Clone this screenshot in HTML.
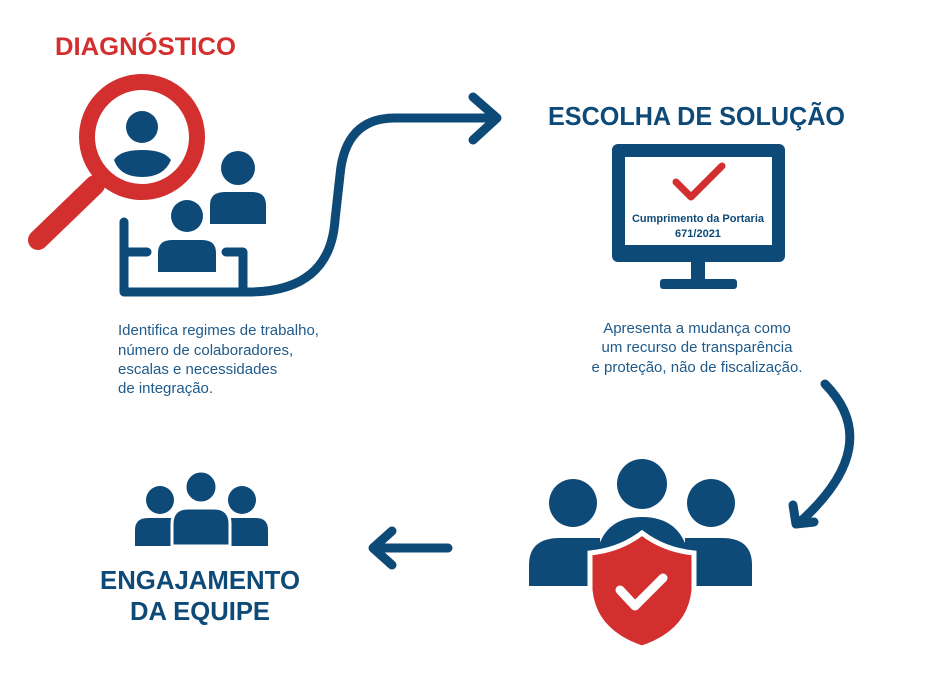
<!DOCTYPE html>
<html><head><meta charset="utf-8"><style>
html,body{margin:0;padding:0;background:#fff;}
svg{display:block;font-family:"Liberation Sans",Arial,sans-serif;}
</style></head><body>
<svg width="926" height="681" viewBox="0 0 926 681" xmlns="http://www.w3.org/2000/svg">
<rect width="926" height="681" fill="#fff"/>
<g fill="#0e4a78">
<text x="55" y="55" font-size="25" font-weight="bold" fill="#d32f2f" textLength="181" lengthAdjust="spacingAndGlyphs">DIAGNÓSTICO</text>
<!-- magnifier -->
<line x1="95" y1="185" x2="38" y2="240" stroke="#d32f2f" stroke-width="20" stroke-linecap="round"/>
<circle cx="142" cy="137" r="55" fill="#fff" stroke="#d32f2f" stroke-width="16"/>
<circle cx="142" cy="127" r="16"/>
<path d="M114 160 Q120 150 142 150 Q164 150 171 160 Q164 177 142 177 Q120 177 114 160Z"/>
<!-- persons -->
<circle cx="238" cy="168" r="17"/>
<path d="M210 224 L210 205 Q210 192 225 192 L252 192 Q266 192 266 205 L266 224Z"/>
<circle cx="187" cy="216" r="16"/>
<path d="M158 272 L158 253 Q158 240 172 240 L202 240 Q216 240 216 253 L216 272Z"/>
</g>
<g fill="none" stroke="#0e4a78" stroke-width="9" stroke-linecap="round" stroke-linejoin="round">
<path d="M124 222 L124 292 L248 292"/>
<path d="M124 252 L147 252"/>
<path d="M226 252 L243 252 L243 292"/>
<path d="M248 292 Q330 292 335 220 L340 175 Q345 118 395 118 L495 118"/>
<path d="M473 97 L497 118 L473 140"/>
<!-- right curved arrow -->
<path d="M825 384 Q885 445 800 522"/>
<path d="M793 505 L796 524 L814 522"/>
<!-- left arrow -->
<path d="M448 548 L374 548"/>
<path d="M392 531 L373 548 L392 565"/>
</g>
<text x="548" y="125" font-size="26" font-weight="bold" fill="#0e4a78" textLength="297" lengthAdjust="spacingAndGlyphs">ESCOLHA DE SOLUÇÃO</text>
<!-- monitor -->
<rect x="612" y="144" width="173" height="118" rx="6" fill="#0e4a78"/>
<rect x="625" y="157" width="147" height="88" fill="#fff"/>
<rect x="691" y="262" width="14" height="18" fill="#0e4a78"/>
<rect x="660" y="279" width="77" height="10" rx="3" fill="#0e4a78"/>
<path d="M676 182 L691 197 L722 166" fill="none" stroke="#d32f2f" stroke-width="7" stroke-linecap="round" stroke-linejoin="round"/>
<text x="698" y="222" font-size="11" font-weight="bold" fill="#0e4a78" text-anchor="middle">Cumprimento da Portaria</text>
<text x="698" y="237" font-size="11" font-weight="bold" fill="#0e4a78" text-anchor="middle">671/2021</text>
<g font-size="15" fill="#1f5a8a">
<text x="118" y="335">Identifica regimes de trabalho,</text>
<text x="118" y="355">número de colaboradores,</text>
<text x="118" y="374">escalas e necessidades</text>
<text x="118" y="393">de integração.</text>
<g text-anchor="middle">
<text x="697" y="333">Apresenta a mudança como</text>
<text x="697" y="352">um recurso de transparência</text>
<text x="697" y="372">e proteção, não de fiscalização.</text>
</g>
</g>
<!-- team -->
<g fill="#0e4a78">
<circle cx="160" cy="500" r="14"/>
<circle cx="242" cy="500" r="14"/>
<path d="M135 546 L135 530 Q135 518 148 518 L172 518 Q180 518 180 530 L180 546Z"/>
<path d="M222 546 L222 530 Q222 518 232 518 L256 518 Q268 518 268 530 L268 546Z"/>
<circle cx="201" cy="487" r="16" stroke="#fff" stroke-width="3"/>
<path d="M172 546 L172 524 Q172 508 188 508 L214 508 Q230 508 230 524 L230 546Z" stroke="#fff" stroke-width="3"/>
</g>
<g font-size="26" font-weight="bold" fill="#0e4a78" text-anchor="middle">
<text x="200" y="589" textLength="200" lengthAdjust="spacingAndGlyphs">ENGAJAMENTO</text>
<text x="200" y="620" textLength="140" lengthAdjust="spacingAndGlyphs">DA EQUIPE</text>
</g>
<!-- shield group -->
<g fill="#0e4a78">
<circle cx="573" cy="503" r="24"/>
<circle cx="711" cy="503" r="24"/>
<path d="M529 586 L529 565 Q529 538 560 538 L600 538 L600 586Z"/>
<path d="M685 586 L685 538 L722 538 Q752 538 752 565 L752 586Z"/>
<circle cx="642" cy="484" r="25"/>
<path d="M597 552 Q605 517 642 517 Q679 517 688 552Z"/>
</g>
<path d="M642 533 Q620 550 590 553 L590 590 Q594 632 642 648 Q690 632 694 590 L694 553 Q664 550 642 533Z" fill="#d32f2f" stroke="#fff" stroke-width="5"/>
<path d="M620 590 L635 606 L663 578" fill="none" stroke="#fff" stroke-width="9" stroke-linecap="round" stroke-linejoin="round"/>
</svg>
</body></html>
